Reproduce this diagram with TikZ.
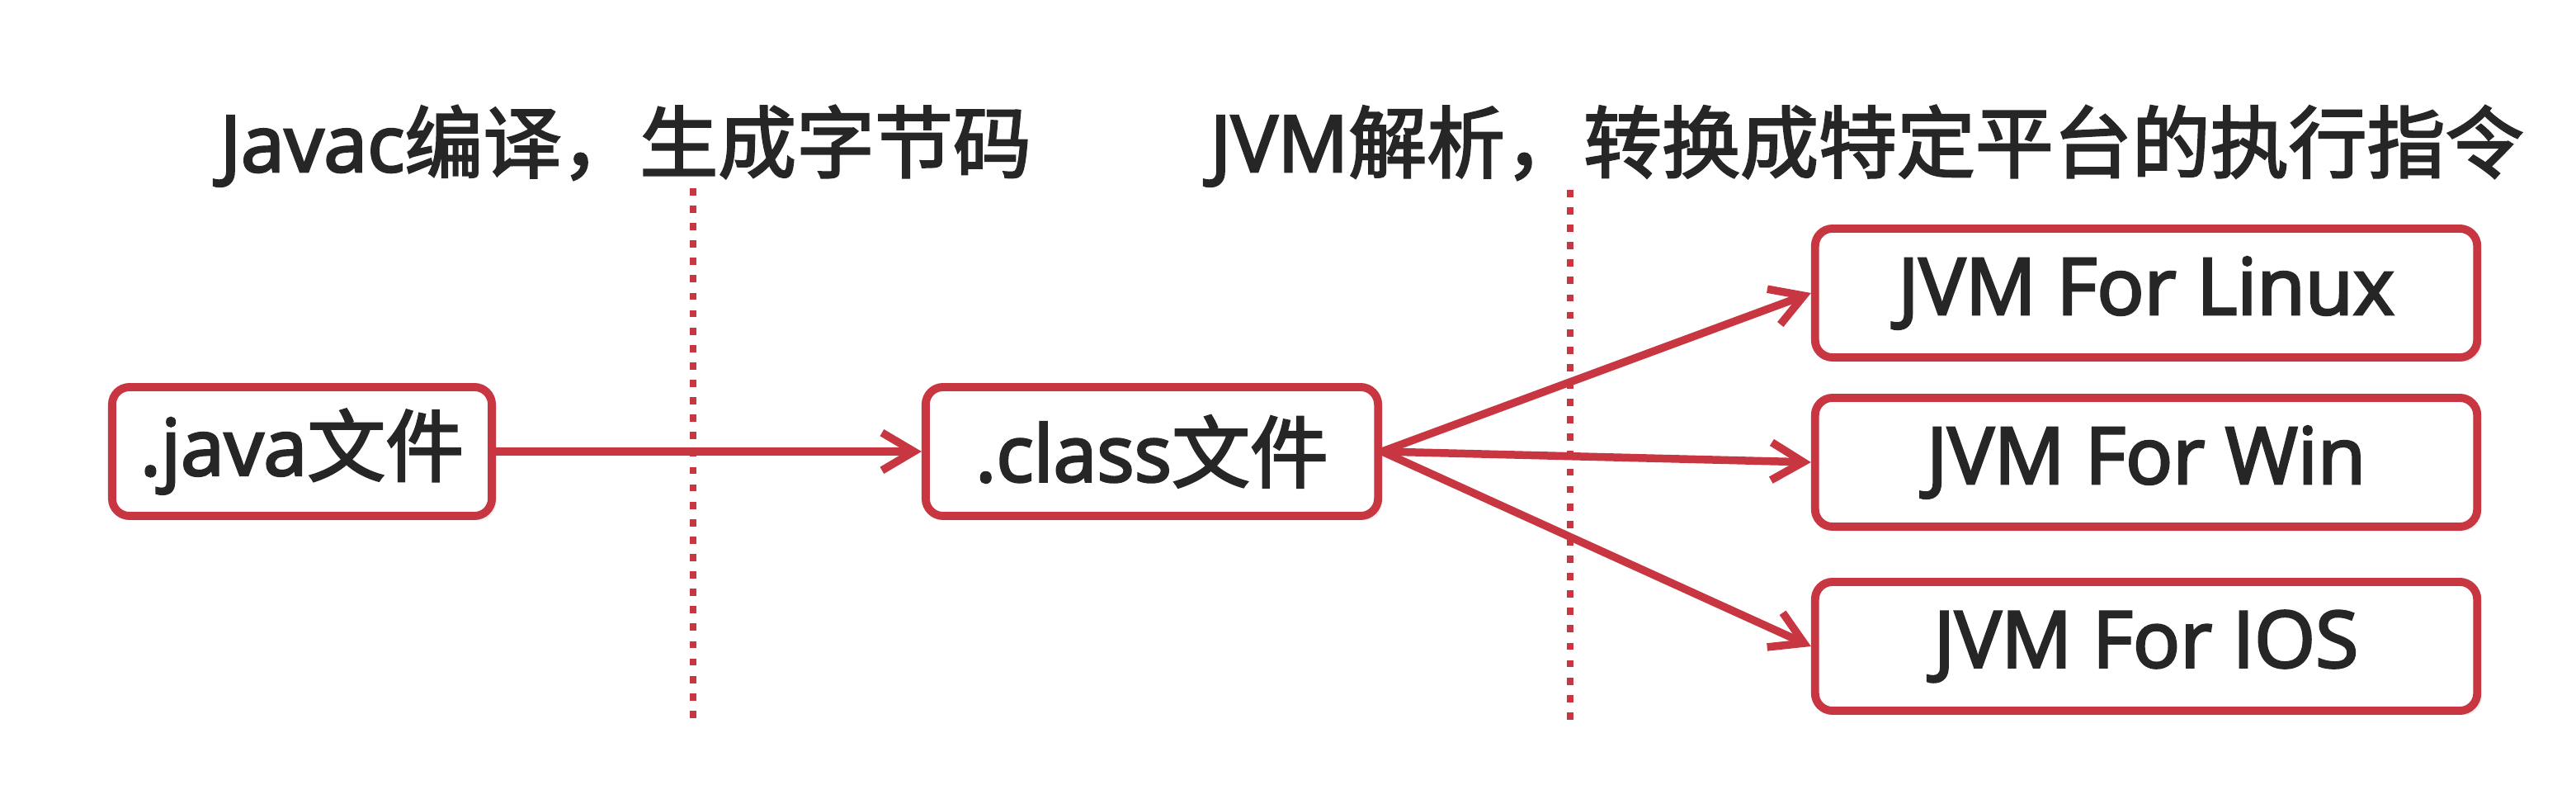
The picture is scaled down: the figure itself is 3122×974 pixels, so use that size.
\documentclass[tikz,border=0pt]{standalone}
\usepackage{fontspec}
\setmainfont{Open Sans}[FakeBold=3]
\newfontfamily\cjk{Noto Sans CJK SC}[FakeBold=2.5]
\usetikzlibrary{arrows.meta,shadows}
\definecolor{boxred}{RGB}{200,55,65}
\definecolor{txt}{RGB}{38,38,38}
\begin{document}
\begin{tikzpicture}[x=0.01cm,y=-0.01cm,
  box/.style={draw=boxred, line width=2.8pt, rounded corners=6pt, fill=white,
    text=txt, font=\fontsize{27}{32}\selectfont, inner sep=0pt,
    minimum height=1.56cm,
    drop shadow={opacity=0.12, shadow xshift=1.5pt, shadow yshift=-1.5pt}},
  conn/.style={draw=boxred, line width=2.7pt,
    -{Straight Barb[length=11pt,width=13pt,line width=2.7pt]}},
  sepline/.style={draw=boxred, line width=2.5pt, dash pattern=on 2.5pt off 3.5pt},
  title/.style={text=txt, font=\fontsize{27}{32}\selectfont, inner sep=0pt, anchor=base west}]
\useasboundingbox (0,0) rectangle (3122,974);
\fill[white] (0,0) rectangle (3122,974);
% titles
\node[title] (t1) at (266,208) {Javac{\cjk 编译，生成字节码}};
\node[title] (t2) at (1466,208) {JVM{\cjk 解析，转换成特定平台的执行指令}};
% separators
\coordinate (s1a) at (840,228);
\coordinate (s1b) at (840,880);
\coordinate (s2a) at (1903,230);
\coordinate (s2b) at (1903,882);
\draw[sepline] (s1a) -- (s1b);
\draw[sepline] (s2a) -- (s2b);
% boxes
\node[box, minimum width=4.6cm] (java) at (366,547) {.java{\cjk 文件}};
\node[box, minimum width=5.48cm] (class) at (1396,547) {.class{\cjk 文件}};
\node[box, minimum width=8.02cm] (linux) at (2601,355) {JVM For Linux};
\node[box, minimum width=8.02cm] (win) at (2601,560) {JVM For Win};
\node[box, minimum width=8.02cm] (ios) at (2601,783) {JVM For IOS};
% connectors
\draw[conn] (java.east) -- (class.west);
\draw[conn] (class.east) -- (linux.west);
\draw[conn] (class.east) -- (win.west);
\draw[conn] (class.east) -- (ios.west);
\end{tikzpicture}
\end{document}
